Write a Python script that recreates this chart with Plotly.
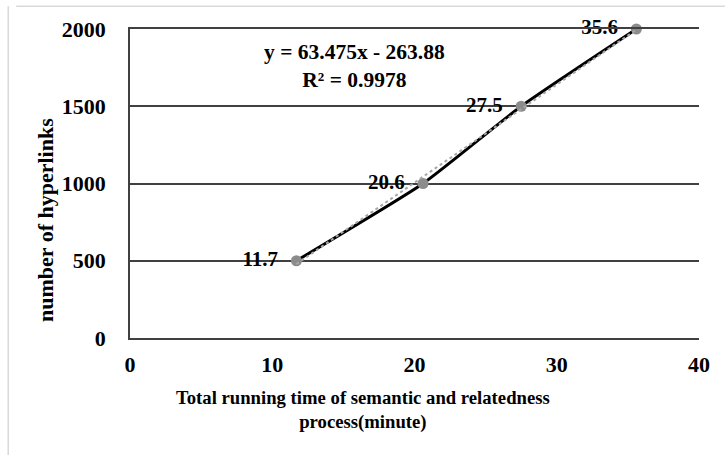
import numpy as np
import plotly.graph_objects as go

time_min = [11.7, 20.6, 27.5, 35.6]
hyperlinks = [500, 1000, 1500, 2000]
point_labels = ["11.7", "20.6", "27.5", "35.6"]
x_ticks = [0, 10, 20, 30, 40]
y_ticks = [0, 500, 1000, 1500, 2000]

slope, intercept = np.polyfit(time_min, hyperlinks, 1)
r2 = np.corrcoef(time_min, hyperlinks)[0, 1] ** 2
trend_x = [min(time_min), max(time_min)]
trend_y = [slope * v + intercept for v in trend_x]

FONT = "Liberation Serif"

fig = go.Figure()
fig.add_trace(go.Scatter(
    x=time_min, y=hyperlinks, mode="lines+markers+text",
    text=point_labels, textposition="middle left",
    texttemplate="<b>%{text}</b>\u00a0\u00a0",
    textfont=dict(family=FONT, size=21, color="black"),
    line=dict(color="black", width=3, shape="spline", smoothing=0.5),
    marker=dict(color="#8c8c8c", size=11),
    showlegend=False, cliponaxis=False,
))
fig.add_trace(go.Scatter(
    x=trend_x, y=trend_y, mode="lines",
    line=dict(color="#a6a6a6", width=2, dash="dot"),
    showlegend=False,
))
fig.add_annotation(
    x=0.395, y=0.88, xref="paper", yref="paper", yanchor="middle",
    text=f"<b>y = {slope:.3f}x - {abs(intercept):.2f}</b><br><b>R² = {r2:.4f}</b>",
    showarrow=False, font=dict(family=FONT, size=21.5, color="black"),
    align="center",
)
# axis titles (centred on the whole picture, as in the reference)
fig.add_annotation(
    x=362.5, y=410, xref="x domain", yref="paper",
    text="<b>Total running time of semantic and relatedness<br>process(minute)</b>",
    showarrow=False, font=dict(family=FONT, size=18.7, color="black"),
    align="center",
)
fig.add_annotation(
    x=45, y=227, text="<b>number of hyperlinks</b>", textangle=-90,
    showarrow=False, font=dict(family=FONT, size=22, color="black"),
    xref="paper", yref="paper",
)
# light outer frame
fig.add_shape(type="line", xref="paper", yref="paper",
              x0=-0.2, x1=1.1, y0=1.074, y1=1.074,
              line=dict(color="#d9d9d9", width=1.5))
fig.add_shape(type="line", xref="paper", yref="paper",
              x0=-0.214, x1=-0.214, y0=-0.5, y1=1.074,
              line=dict(color="#d9d9d9", width=1.5))

# convert pixel positions of the title annotations into paper coordinates
W, H = 725, 455
L, R, T, B = 130, 26, 29, 117
pw, ph = W - L - R, H - T - B
def px_to_paper_x(px):
    return (px - L) / pw
def px_to_paper_y(py):
    return (H - B - py) / ph

fig.layout.annotations[1].update(xref="paper", x=px_to_paper_x(362.5), y=px_to_paper_y(410), yanchor="middle")
fig.layout.annotations[2].update(x=px_to_paper_x(45), y=px_to_paper_y(220), xanchor="center", yanchor="middle")

fig.update_layout(
    width=W, height=H,
    margin=dict(l=L, r=R, t=T, b=B),
    paper_bgcolor="white", plot_bgcolor="white",
    font=dict(family=FONT, size=18, color="black"),
    xaxis=dict(
        range=[0, 40], tickvals=x_ticks, showgrid=False, zeroline=False,
        showline=True, mirror=True, linecolor="#404040", linewidth=1.5,
        ticks="", ticklabelstandoff=6,
        tickfont=dict(family=FONT, size=22, color="black", weight="bold"),
    ),
    yaxis=dict(
        range=[0, 2000], tickvals=y_ticks, showgrid=True, gridcolor="#404040",
        gridwidth=1.5, zeroline=False, showline=True, linecolor="#404040",
        linewidth=1.5, ticks="", ticklabelstandoff=18,
        tickfont=dict(family=FONT, size=22, color="black", weight="bold"),
    ),
)
fig.write_html("out.html")
